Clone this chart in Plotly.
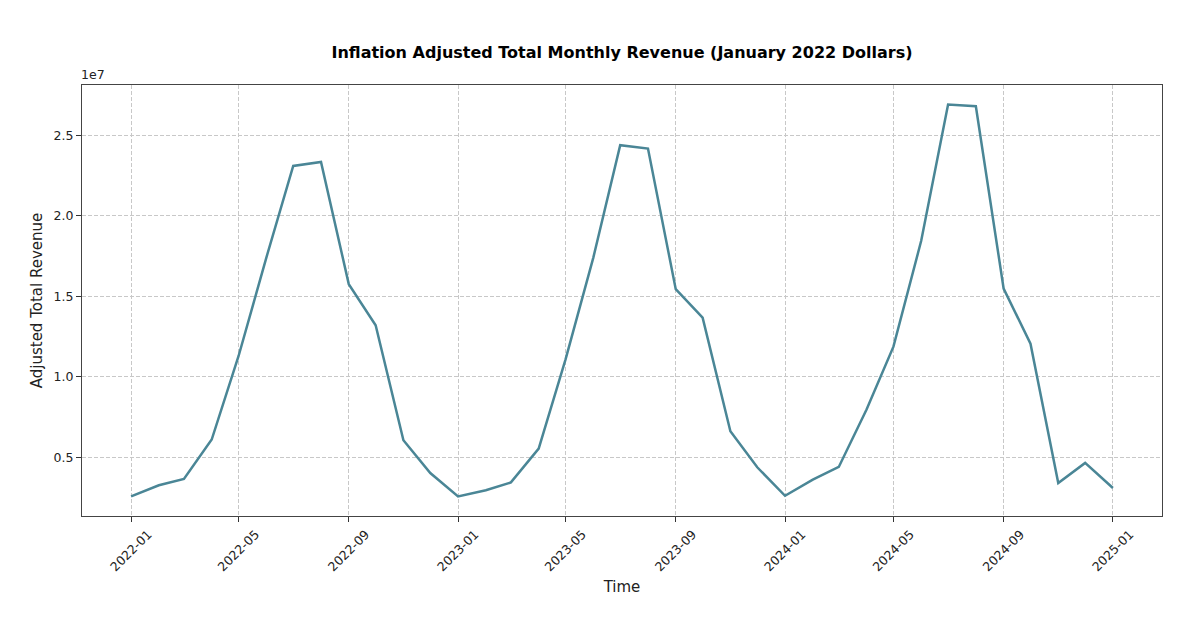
import pandas as pd
import plotly.graph_objects as go
from datetime import datetime

months = pd.date_range("2022-01-01", "2025-01-01", freq="MS")
revenue_1e7 = [
    0.257, 0.326, 0.365, 0.610, 1.129, 1.740, 2.309, 2.334, 1.575, 1.320, 0.606, 0.402,
    0.257, 0.295, 0.344, 0.554, 1.108, 1.740, 2.438, 2.417, 1.544, 1.367, 0.662, 0.438,
    0.261, 0.361, 0.440, 0.797, 1.187, 1.844, 2.690, 2.680, 1.548, 1.205, 0.340, 0.465,
    0.309,
]
revenue = [v * 1e7 for v in revenue_1e7]

x_tick_labels = ["2022-01", "2022-05", "2022-09", "2023-01", "2023-05", "2023-09",
                 "2024-01", "2024-05", "2024-09", "2025-01"]
y_tick_vals = [0.5e7, 1.0e7, 1.5e7, 2.0e7, 2.5e7]
y_tick_text = ["0.5", "1.0", "1.5", "2.0", "2.5"]

FONT = "DejaVu Sans"
fig = go.Figure()
fig.add_trace(go.Scatter(
    x=months, y=revenue, mode="lines",
    line=dict(color="#4A8696", width=2.5),
    showlegend=False,
))

x0 = months[0].to_pydatetime()
x1 = months[-1].to_pydatetime()
span = (x1 - x0) * 0.05
ymin, ymax = min(revenue), max(revenue)
ypad = (ymax - ymin) * 0.05

fig.update_layout(
    width=1202, height=624,
    margin=dict(l=74, r=48, t=77, b=116),
    paper_bgcolor="white", plot_bgcolor="white",
    font=dict(family=FONT, color="#222222"),
    title=dict(
        text="<b>Inflation Adjusted Total Monthly Revenue (January 2022 Dollars)</b>",
        x=0.5108, xanchor="center", y=0.9295, yanchor="middle",
        font=dict(family=FONT, size=16, color="black"),
    ),
    xaxis=dict(
        range=[x0 - span, x1 + span],
        tickvals=[datetime.strptime(t, "%Y-%m") for t in x_tick_labels],
        ticktext=x_tick_labels,
        tickangle=-45,
        ticklabelshift=17,
        tickfont=dict(family=FONT, size=12.5, color="#222222"),
        ticks="outside", ticklen=5, tickcolor="#333333",
        showgrid=True, gridcolor="#C8C8C8", griddash="4px,2px", gridwidth=1,
        showline=True, linecolor="#444444", linewidth=1.2, mirror=True,
        zeroline=False,
        title=dict(text="Time", font=dict(family=FONT, size=15, color="#222222"), standoff=8),
    ),
    yaxis=dict(
        range=[ymin - ypad, ymax + ypad],
        tickvals=y_tick_vals, ticktext=y_tick_text,
        tickfont=dict(family=FONT, size=12.5, color="#222222"),
        ticks="outside", ticklen=5, tickcolor="#333333",
        showgrid=True, gridcolor="#C8C8C8", griddash="4px,2px", gridwidth=1,
        showline=True, linecolor="#444444", linewidth=1.2, mirror=True,
        zeroline=False,
        title=dict(text="Adjusted Total Revenue", font=dict(family=FONT, size=15, color="#222222"), standoff=7),
    ),
)
fig.add_annotation(
    text="1e7", xref="paper", yref="paper", x=0, y=1, xanchor="left", yanchor="bottom",
    showarrow=False, font=dict(family=FONT, size=12.5, color="#222222"), yshift=1, xshift=-3,
)
fig.write_html("out.html")
